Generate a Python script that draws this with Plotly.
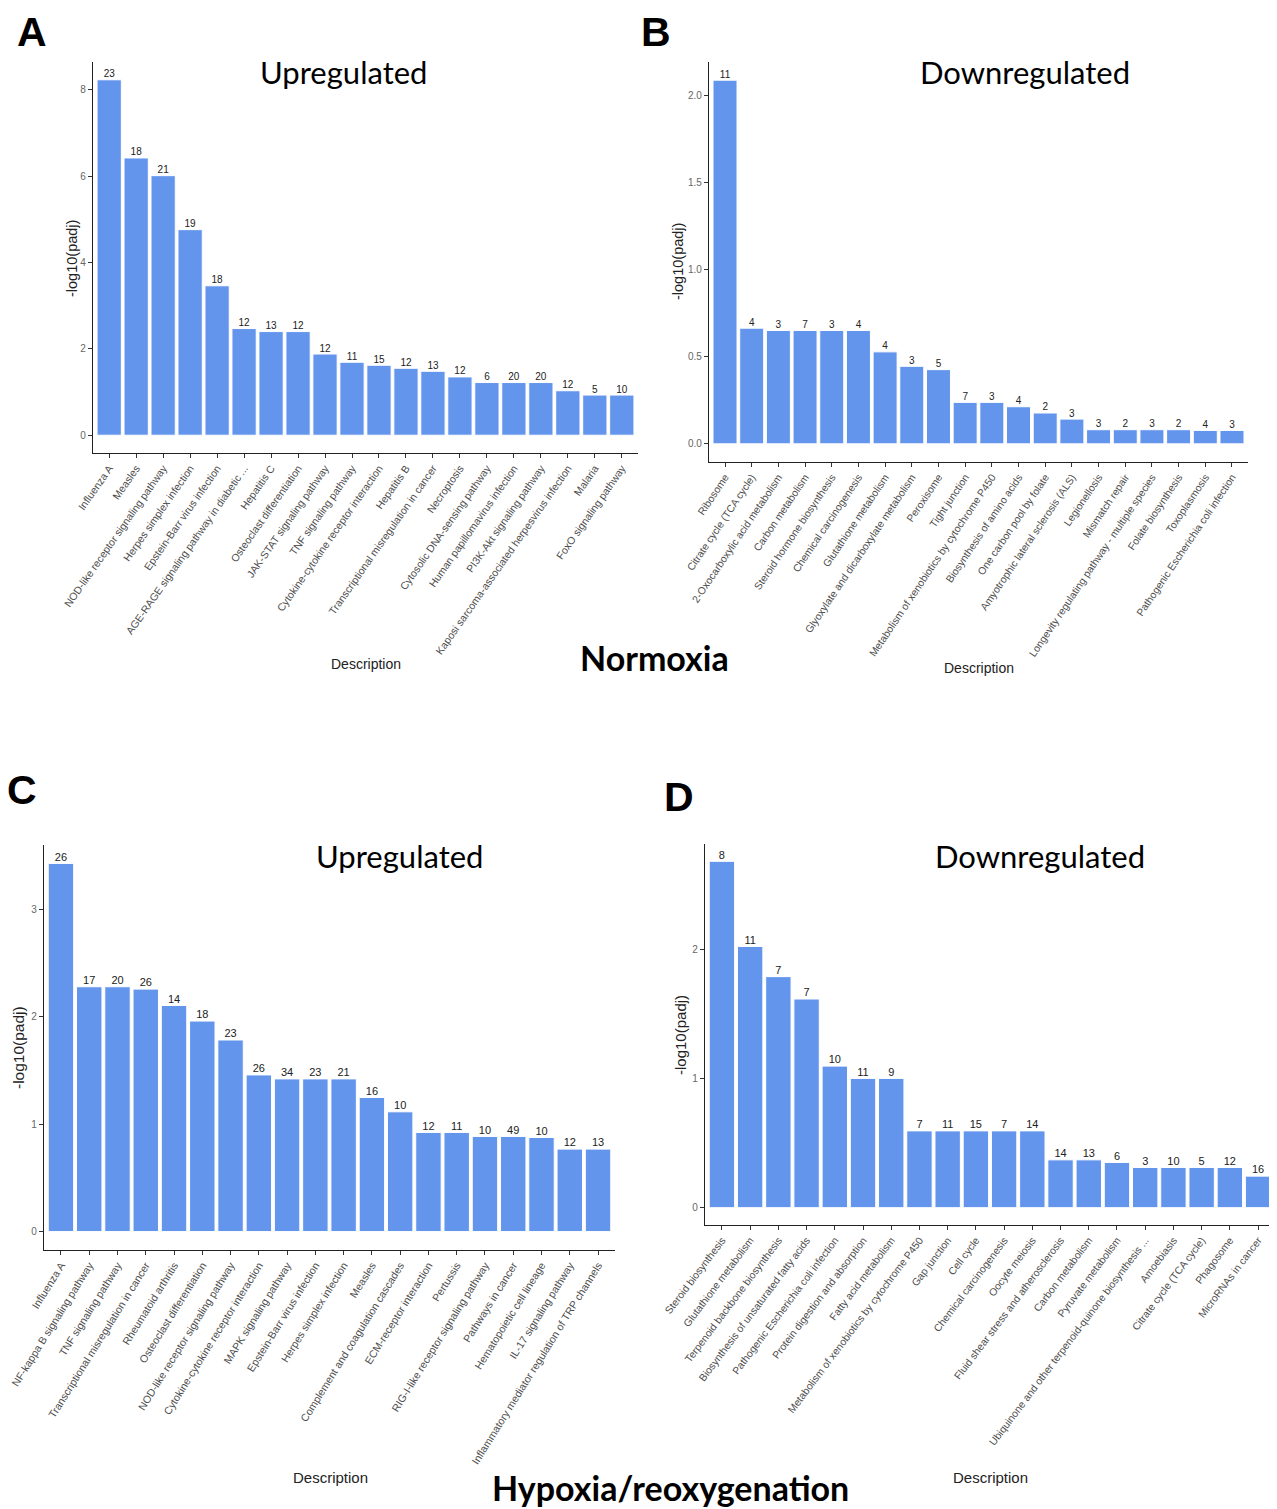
import plotly.graph_objects as go

# page body has an 8px margin; map reference pixels into the figure accordingly
OFF = 8
W, H = 1269, 1501

# ---------------- data ----------------
a_terms = ["Influenza A", "Measles", "NOD-like receptor signaling pathway", "Herpes simplex infection",
           "Epstein-Barr virus infection", "AGE-RAGE signaling pathway in diabetic ...", "Hepatitis C",
           "Osteoclast differentiation", "JAK-STAT signaling pathway", "TNF signaling pathway",
           "Cytokine-cytokine receptor interaction", "Hepatitis B", "Transcriptional misregulation in cancer",
           "Necroptosis", "Cytosolic DNA-sensing pathway", "Human papillomavirus infection",
           "PI3K-Akt signaling pathway", "Kaposi sarcoma-associated herpesvirus infection", "Malaria",
           "FoxO signaling pathway"]
a_vals = [8.23, 6.42, 6.01, 4.76, 3.46, 2.47, 2.40, 2.40, 1.88, 1.69, 1.62, 1.55, 1.48, 1.35,
          1.22, 1.22, 1.22, 1.03, 0.93, 0.93]
a_counts = [23, 18, 21, 19, 18, 12, 13, 12, 12, 11, 15, 12, 13, 12, 6, 20, 20, 12, 5, 10]

b_terms = ["Ribosome", "Citrate cycle (TCA cycle)", "2-Oxocarboxylic acid metabolism", "Carbon metabolism",
           "Steroid hormone biosynthesis", "Chemical carcinogenesis", "Glutathione metabolism",
           "Glyoxylate and dicarboxylate metabolism", "Peroxisome", "Tight junction",
           "Metabolism of xenobiotics by cytochrome P450", "Biosynthesis of amino acids",
           "One carbon pool by folate", "Amyotrophic lateral sclerosis (ALS)", "Legionellosis",
           "Mismatch repair", "Longevity regulating pathway - multiple species", "Folate biosynthesis",
           "Toxoplasmosis", "Pathogenic Escherichia coli infection"]
b_vals = [2.088, 0.664, 0.651, 0.651, 0.651, 0.651, 0.528, 0.445, 0.426, 0.238, 0.238, 0.213,
          0.177, 0.142, 0.081, 0.081, 0.081, 0.081, 0.077, 0.077]
b_counts = [11, 4, 3, 7, 3, 4, 4, 3, 5, 7, 3, 4, 2, 3, 3, 2, 3, 2, 4, 3]

c_terms = ["Influenza A", "NF-kappa B signaling pathway", "TNF signaling pathway",
           "Transcriptional misregulation in cancer", "Rheumatoid arthritis", "Osteoclast differentiation",
           "NOD-like receptor signaling pathway", "Cytokine-cytokine receptor interaction",
           "MAPK signaling pathway", "Epstein-Barr virus infection", "Herpes simplex infection", "Measles",
           "Complement and coagulation cascades", "ECM-receptor interaction", "Pertussis",
           "RIG-I-like receptor signaling pathway", "Pathways in cancer", "Hematopoietic cell lineage",
           "IL-17 signaling pathway", "Inflammatory mediator regulation of TRP channels"]
c_vals = [3.424, 2.277, 2.277, 2.255, 2.103, 1.958, 1.782, 1.457, 1.420, 1.420, 1.420, 1.247,
          1.114, 0.922, 0.922, 0.885, 0.885, 0.875, 0.767, 0.767]
c_counts = [26, 17, 20, 26, 14, 18, 23, 26, 34, 23, 21, 16, 10, 12, 11, 10, 49, 10, 12, 13]

d_terms = ["Steroid biosynthesis", "Glutathione metabolism", "Terpenoid backbone biosynthesis",
           "Biosynthesis of unsaturated fatty acids", "Pathogenic Escherichia coli infection",
           "Protein digestion and absorption", "Fatty acid metabolism",
           "Metabolism of xenobiotics by cytochrome P450", "Gap junction", "Cell cycle",
           "Chemical carcinogenesis", "Oocyte meiosis", "Fluid shear stress and atherosclerosis",
           "Carbon metabolism", "Pyruvate metabolism", "Ubiquinone and other terpenoid-quinone biosynthesis ...",
           "Amoebiasis", "Citrate cycle (TCA cycle)", "Phagosome", "MicroRNAs in cancer"]
d_vals = [2.679, 2.021, 1.787, 1.614, 1.095, 1.0, 1.0, 0.594, 0.594, 0.594, 0.594, 0.594,
          0.370, 0.370, 0.350, 0.311, 0.311, 0.311, 0.311, 0.244]
d_counts = [8, 11, 7, 7, 10, 11, 9, 7, 11, 15, 7, 14, 14, 13, 6, 3, 10, 5, 12, 16]

panel_letters = ["A", "B", "C", "D"]
panel_titles = ["Upregulated", "Downregulated", "Upregulated", "Downregulated"]
group_titles = ["Normoxia", "Hypoxia/reoxygenation"]
y_title = "-log10(padj)"
x_title = "Description"

# ---------------- layout helpers ----------------
BAR = "#6495ED"
panels = [
    # terms, vals, counts, (x0, x1, ytop, ybottom) in reference px, dtick, tickformat,
    # tick-label size, tick angle, count-label size
    (a_terms, a_vals, a_counts, (93, 638, 62, 453), 2, "d", 10.5, -55, 10),
    (b_terms, b_vals, b_counts, (709, 1248, 62, 462), 0.5, ".1f", 10.4, -56, 10),
    (c_terms, c_vals, c_counts, (44, 615, 845, 1250), 1, "d", 10.6, -58, 11),
    (d_terms, d_vals, d_counts, (705, 1275, 844, 1225), 1, "d", 10.4, -53, 11),
]

def px(x):
    return (x - OFF) / W

def py(y):
    return 1 - (y - OFF) / H

fig = go.Figure()
layout = dict(
    width=W, height=H, margin=dict(l=0, r=0, t=0, b=0),
    paper_bgcolor="white", plot_bgcolor="white", showlegend=False,
    bargap=0.1, font=dict(family="Liberation Sans, Arial", color="#333"),
)

for i, (terms, vals, counts, box, dt, tf, tfs, tang, cfs) in enumerate(panels):
    n = i + 1
    xa = "x" if n == 1 else f"x{n}"
    ya = "y" if n == 1 else f"y{n}"
    fig.add_trace(go.Bar(x=terms, y=vals, xaxis=xa, yaxis=ya,
                         marker=dict(color=BAR, line=dict(color="white", width=1)),
                         hoverinfo="x+y"))
    fig.add_trace(go.Scatter(x=terms, y=vals, xaxis=xa, yaxis=ya, mode="text",
                             text=[str(c) for c in counts], textposition="top center",
                             textfont=dict(size=cfs, color="#222", family="Liberation Sans, Arial"),
                             cliponaxis=False, hoverinfo="skip"))
    x0, x1, yt, yb = box
    ymax = max(vals)
    layout["xaxis" if n == 1 else f"xaxis{n}"] = dict(
        domain=[px(x0), px(x1)], anchor=ya, type="category", range=[-0.6, len(terms) - 0.4],
        showline=True, linecolor="#222", linewidth=1.2, ticks="outside", ticklen=4,
        tickcolor="#333", tickwidth=1, tickangle=tang, automargin=False, showgrid=False,
        tickfont=dict(size=tfs, color="#4D4D4D", family="Liberation Sans, Arial"),
    )
    layout["yaxis" if n == 1 else f"yaxis{n}"] = dict(
        domain=[py(yb), py(yt)], anchor=xa, range=[-0.05 * ymax, 1.05 * ymax],
        showline=True, linecolor="#222", linewidth=1.2, ticks="outside", ticklen=4,
        tickcolor="#333", tickwidth=1, dtick=dt, tick0=0, tickformat=tf, zeroline=False,
        showgrid=False, automargin=False,
        tickfont=dict(size=10, color="#666", family="Liberation Sans, Arial"),
    )

fig.update_layout(**layout)

anns = []
def ann(text, x, y, size, family, bold=False, color="black", angle=0):
    anns.append(dict(text=f"<b>{text}</b>" if bold else text, x=px(x), y=py(y),
                     xref="paper", yref="paper", xanchor="center", yanchor="middle",
                     showarrow=False, textangle=angle,
                     font=dict(size=size, family=family, color=color)))

letter_pos = [(32, 32), (656, 32), (22, 790), (679, 797)]
for L, (x, y) in zip(panel_letters, letter_pos):
    ann(L, x, y, 41, "Liberation Sans, Arial", bold=True)

title_pos = [(343, 72), (1025, 72), (399, 856), (1040, 856)]
for t, (x, y) in zip(panel_titles, title_pos):
    ann(t, x, y, 31, "Lato, Open Sans")

ann(group_titles[0], 654, 657, 34, "Lato, Open Sans", bold=True)
ann(group_titles[1], 670, 1487, 34, "Lato, Open Sans", bold=True)

ytitle_specs = [(72, 259, 14.5), (678, 262, 14.5), (18, 1048, 15.5), (680, 1035, 15)]
for (x, y, s) in ytitle_specs:
    ann(y_title, x, y, s, "Liberation Sans, Arial", color="#222", angle=-90)

xtitle_specs = [(366, 664, 14), (979, 668, 14), (330, 1477, 15), (990, 1477, 15)]
for (x, y, s) in xtitle_specs:
    ann(x_title, x, y, s, "Liberation Sans, Arial", color="#222")

fig.update_layout(annotations=anns)
fig.write_html("out.html")
